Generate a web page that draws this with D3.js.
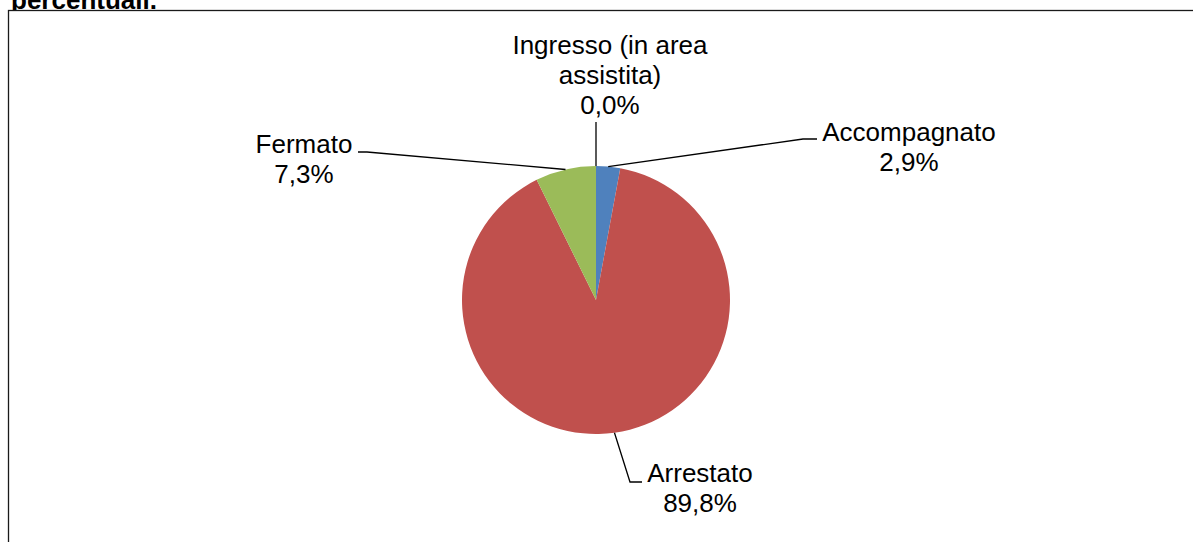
<!DOCTYPE html>
<html>
<head>
<meta charset="utf-8">
<script src="https://cdn.jsdelivr.net/npm/d3@7"></script>
<style>
  body { margin: 0; background: #fff; }
  svg { display: block; font-family: "Liberation Sans", Arial, sans-serif; }
</style>
</head>
<body>
<svg width="1193" height="542"></svg>
<script>
// Data
var categories = ['Accompagnato', 'Arrestato', 'Fermato', 'Ingresso (in area assistita)'];
var values = [2.9, 89.8, 7.3, 0.0];
var valueLabels = ['2,9%', '89,8%', '7,3%', '0,0%'];
var colors = ['#4F81BD', '#C0504D', '#9BBB59', '#8064A2'];

// label placement (leader elbow, leader end, text centre, text lines)
var labelLayout = [
  { elbow: [803, 139], end: [817, 139], tx: 909, ty: 141, lines: ['Accompagnato'] },
  { elbow: [630, 482], end: [642, 482], tx: 700, ty: 482, lines: ['Arrestato'] },
  { elbow: [367, 152], end: [358, 152], tx: 304, ty: 153, lines: ['Fermato'] },
  { elbow: [596, 122], end: [596, 122], tx: 610, ty: 54, lines: ['Ingresso (in area', 'assistita)'] }
];

var svg = d3.select('svg'),
  w = +svg.attr('width'),
  h = +svg.attr('height'),
  cx = 596, cy = 300, r = 134,
  lineH = 29.8;

// title, cut off at the top
svg.append('text')
  .attr('x', 11)
  .attr('y', 9)
  .attr('font-size', 26)
  .attr('font-weight', 'bold')
  .attr('fill', '#000')
  .text('percentuali.');

// chart frame
svg.append('rect')
  .attr('x', 8.5)
  .attr('y', 10.5)
  .attr('width', w + 20)
  .attr('height', h + 20)
  .attr('fill', '#fff')
  .attr('stroke', '#1a1a1a')
  .attr('stroke-width', 1.3);

var pie = d3.pie().sort(null).value(function(d) { return d; });
var arcs = pie(values);
var arc = d3.arc().innerRadius(0).outerRadius(r);

var g = svg.append('g').attr('transform', 'translate(' + cx + ',' + cy + ')');

g.selectAll('path')
  .data(arcs)
  .enter().append('path')
  .attr('d', arc)
  .attr('fill', function(d, i) { return colors[i]; });

// leader lines start on the rim at the middle of each slice
arcs.forEach(function(a, i) {
  var mid = (a.startAngle + a.endAngle) / 2,
    sx = cx + r * Math.sin(mid),
    sy = cy - r * Math.cos(mid),
    L = labelLayout[i];

  svg.append('path')
    .attr('d', d3.line()([[sx, sy], L.elbow, L.end]))
    .attr('fill', 'none')
    .attr('stroke', '#000')
    .attr('stroke-width', 1.3);

  var lines = L.lines.concat([valueLabels[i]]);
  var t = svg.append('text')
    .attr('text-anchor', 'middle')
    .attr('font-size', 26)
    .attr('fill', '#000');
  lines.forEach(function(s, k) {
    t.append('tspan')
      .attr('x', L.tx)
      .attr('y', L.ty + k * lineH)
      .text(s);
  });
});
</script>
</body>
</html>
